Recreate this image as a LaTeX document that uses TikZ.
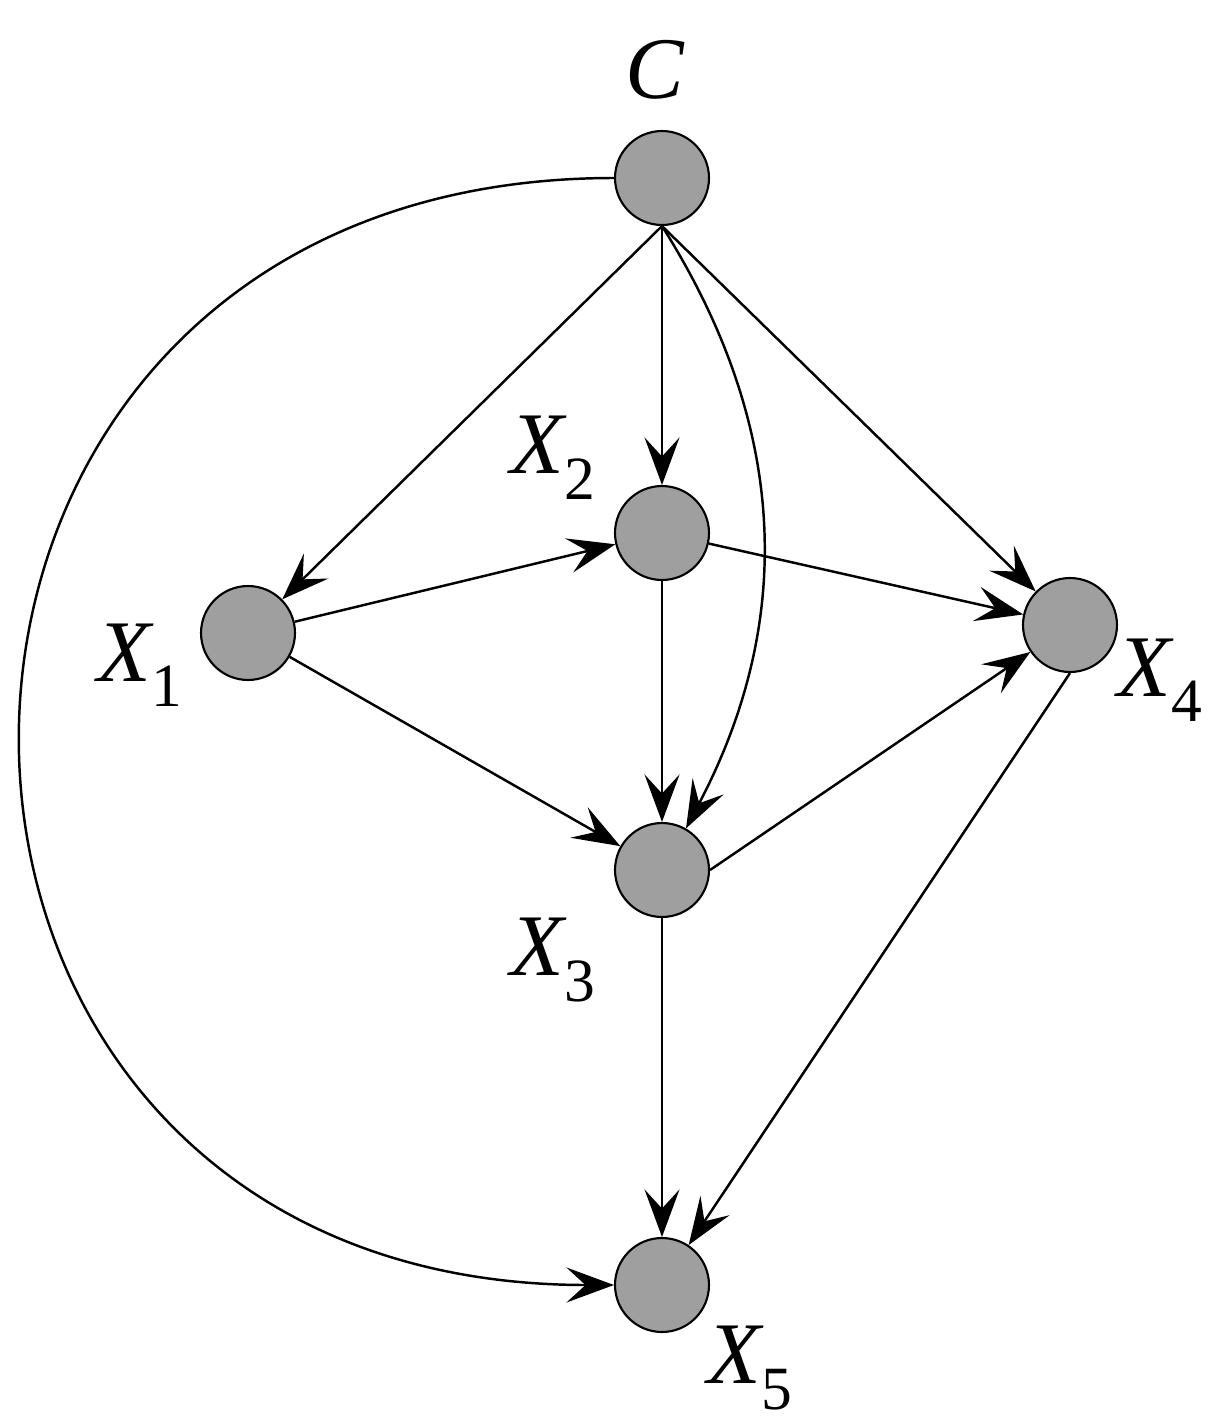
\documentclass[tikz,border=0pt]{standalone}
\usepackage{fontspec}
\setmainfont{Liberation Serif}
\usetikzlibrary{arrows.meta}
\begin{document}
\begin{tikzpicture}[x=0.02cm,y=-0.02cm,
  vtx/.style={circle,draw,fill=gray!75,minimum size=1.88cm,inner sep=0pt,line width=1.2pt},
  lab/.style={font=\fontsize{50}{55}\selectfont\itshape},
  arr/.style={line width=1.4pt,-{Stealth[length=0.95cm,width=0.7cm,inset=0.38cm]}}]
\useasboundingbox (0,0) rectangle (1225,1424);
\node[vtx] (C) at (662,178) {};
\node[vtx] (X2) at (662,533) {};
\node[vtx] (X1) at (248,633) {};
\node[vtx] (X4) at (1070,625) {};
\node[vtx] (X3) at (662,870) {};
\node[vtx] (X5) at (662,1285) {};
\node[lab] (lC) at (655,70) {C};
\node[lab] (l2) at (553,458) {X$_{\mathrm{2}}$};
\node[lab] (l1) at (140,665) {X$_{\mathrm{1}}$};
\node[lab] (l4) at (1160,680) {X$_{\mathrm{4}}$};
\node[lab] (l3) at (553,960) {X$_{\mathrm{3}}$};
\node[lab] (l5) at (750,1368) {X$_{\mathrm{5}}$};
\draw[arr] (C.south) -- (X1);
\draw[arr] (C) -- (X2);
\draw[arr] (C.south) -- (X4);
\draw[arr] (C.south) to[bend left=30] (X3);
\draw[arr] (C.west) .. controls (-175,178) and (-175,1285) .. (X5.west);
\draw[arr] (X1) -- (X2);
\draw[arr] (X1) -- (X3);
\draw[arr] (X2) -- (X4);
\draw[arr] (X2) -- (X3);
\draw[arr] (X3.east) -- (X4);
\draw[arr] (X3) -- (X5);
\draw[arr] (X4.south) -- (X5);
\end{tikzpicture}
\end{document}
